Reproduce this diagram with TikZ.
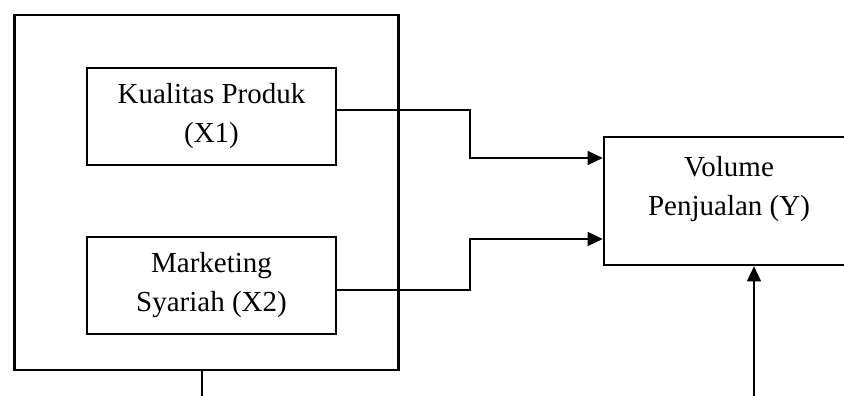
\documentclass[tikz,border=0pt]{standalone}
\usepackage{fontspec}
\setmainfont{Liberation Serif}
\usetikzlibrary{arrows.meta,calc}
\begin{document}
\begin{tikzpicture}[x=1pt,y=-1pt,
  lbl/.style={align=center,font=\fontsize{29}{39}\selectfont},
  box/.style={draw,line width=2.6pt,inner sep=0pt,lbl},
  link/.style={line width=1.3pt},
  feed/.style={link,-{Triangle[length=15pt,width=14pt]}}]
\useasboundingbox (0,0) rectangle (844,396);
\clip (0,0) rectangle (844,396);

% independent variables grouped in one frame
\node[box, minimum width=384, minimum height=355] (frame) at (206.5,192.5) {};
\node[box, minimum width=249, minimum height=97] (kp) at (211.5,116.5) {Kualitas Produk\\(X1)};
\node[box, minimum width=249, minimum height=97] (ms) at (211.5,285.5) {Marketing\\Syariah (X2)};

% dependent variable (runs off the right edge)
\node[box, minimum width=250, minimum height=128] (vp) at (729,201) {};
\node[lbl] (vptext) at (729,189) {Volume\\Penjualan (Y)};

% free ends at the bottom edge
\coordinate (frout) at (202,396);
\coordinate (vpin) at (754,396);

% connectors
\draw[feed] ([yshift=6.5pt]kp.east) -- (470,110) |- ([yshift=43pt]vp.west);
\draw[feed] ([yshift=-4.5pt]ms.east) -- (470,290) |- ([yshift=-38pt]vp.west);
\draw[link] ([xshift=-4.5pt]frame.south) -- (frout);
\draw[feed] (vpin) -- (vpin |- vp.south);
\end{tikzpicture}
\end{document}
